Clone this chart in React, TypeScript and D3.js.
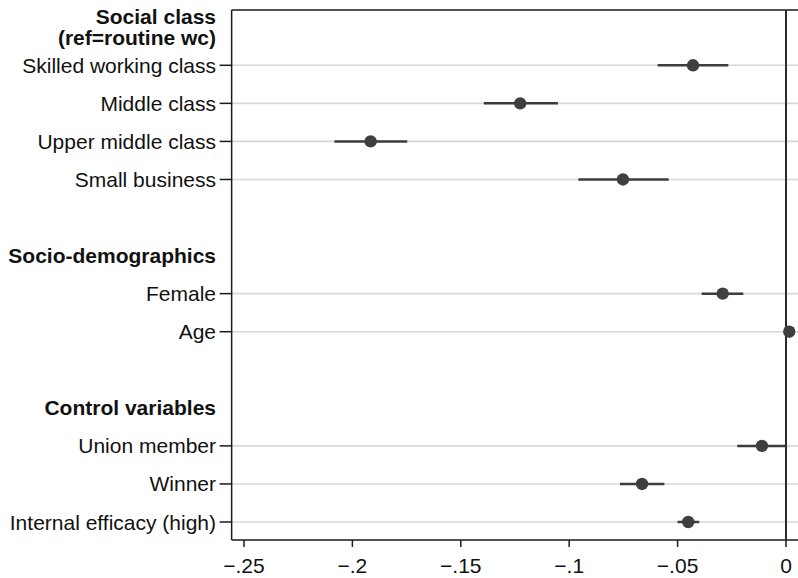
import React from "react";
import * as d3 from "d3";

// Coefficient plot: grouped rows, each with point estimate and 95% CI
const rowLabels = [
  "Social class|(ref=routine wc)",
  "Skilled working class",
  "Middle class",
  "Upper middle class",
  "Small business",
  "",
  "Socio-demographics",
  "Female",
  "Age",
  "",
  "Control variables",
  "Union member",
  "Winner",
  "Internal efficacy (high)",
];
const headerRows = [0, 6, 10];

const coefLabels = [
  "Skilled working class",
  "Middle class",
  "Upper middle class",
  "Small business",
  "Female",
  "Age",
  "Union member",
  "Winner",
  "Internal efficacy (high)",
];
const coefEstimates = [-0.0429, -0.1226, -0.1916, -0.0752, -0.0292, 0.0015, -0.0111, -0.0664, -0.0451];
const coefLower = [-0.0592, -0.1394, -0.2083, -0.0958, -0.0389, 0.0008, -0.0225, -0.0766, -0.05];
const coefUpper = [-0.0266, -0.1052, -0.1747, -0.0541, -0.0197, 0.0022, -0.0002, -0.0561, -0.04];

const xTicks = [-0.25, -0.2, -0.15, -0.1, -0.05, 0];

const W = 798;
const H = 578;
const FONT = "'Liberation Sans', Arial, Helvetica, sans-serif";
const FS = 21;

export default function App() {
  const x = d3.scaleLinear().domain([-0.25, 0]).range([244, 786]);
  const y = d3.scaleLinear().domain([0, 13]).range([27.24, 522]);

  const left = x(-0.2557);
  const right = W + 10;
  const top = y(-0.453);
  const bottom = y(13.47);

  const tickFmt = (v: number) => (v === 0 ? "0" : d3.format(".2~f")(v).replace("0.", "."));

  const rowIndex = (label: string) => rowLabels.indexOf(label);

  return (
    <svg
      width={W}
      height={H}
      style={{ position: "absolute", left: 0, top: 0, background: "#fff" }}
      fontFamily={FONT}
    >
      {/* grid lines on coefficient rows */}
      {coefLabels.map((lab) => (
        <line
          key={"g" + lab}
          x1={left}
          x2={right}
          y1={y(rowIndex(lab))}
          y2={y(rowIndex(lab))}
          stroke="#d8d8d8"
          strokeWidth={1.6}
        />
      ))}

      {/* plot region frame */}
      <line x1={left} x2={right} y1={top} y2={top} stroke="#1a1a1a" strokeWidth={1.5} />
      <line x1={left} x2={left} y1={top} y2={bottom} stroke="#1a1a1a" strokeWidth={1.5} />
      <line x1={left} x2={right} y1={bottom} y2={bottom} stroke="#1a1a1a" strokeWidth={1.5} />

      {/* reference line at zero */}
      <line x1={x(0)} x2={x(0)} y1={top} y2={bottom} stroke="#2a2a2a" strokeWidth={2} />

      {/* x axis ticks and labels */}
      {xTicks.map((t) => (
        <g key={"xt" + t}>
          <line x1={x(t)} x2={x(t)} y1={bottom} y2={bottom + 7} stroke="#1a1a1a" strokeWidth={1.5} />
          <text x={x(t)} y={573} textAnchor="middle" fontSize={FS} fill="#111">
            {tickFmt(t)}
          </text>
        </g>
      ))}

      {/* y axis: ticks on coefficient rows, bold group headers */}
      {rowLabels.map((lab, i) => {
        if (!lab) return null;
        const yy = y(i);
        if (headerRows.includes(i)) {
          const lines = lab.split("|");
          const lh = 21;
          const y0 = yy - ((lines.length - 1) * lh) / 2 + 7;
          return (
            <text key={"h" + i} textAnchor="end" fontSize={FS} fontWeight="bold" fill="#111">
              {lines.map((ln, k) => (
                <tspan key={k} x={216} y={y0 + k * lh}>
                  {ln}
                </tspan>
              ))}
            </text>
          );
        }
        return (
          <g key={"r" + i}>
            <line x1={left - 12} x2={left} y1={yy} y2={yy} stroke="#1a1a1a" strokeWidth={1.5} />
            <text x={216} y={yy + 7.5} textAnchor="end" fontSize={FS} fill="#111">
              {lab}
            </text>
          </g>
        );
      })}

      {/* confidence intervals */}
      {coefLabels.map((lab, k) => (
        <line
          key={"ci" + lab}
          x1={x(coefLower[k])}
          x2={x(coefUpper[k])}
          y1={y(rowIndex(lab))}
          y2={y(rowIndex(lab))}
          stroke="#3c3c3c"
          strokeWidth={2.5}
        />
      ))}

      {/* point estimates */}
      {coefLabels.map((lab, k) => (
        <circle
          key={"pt" + lab}
          cx={x(coefEstimates[k])}
          cy={y(rowIndex(lab))}
          r={6.2}
          fill="#3f3f3f"
        />
      ))}
    </svg>
  );
}
